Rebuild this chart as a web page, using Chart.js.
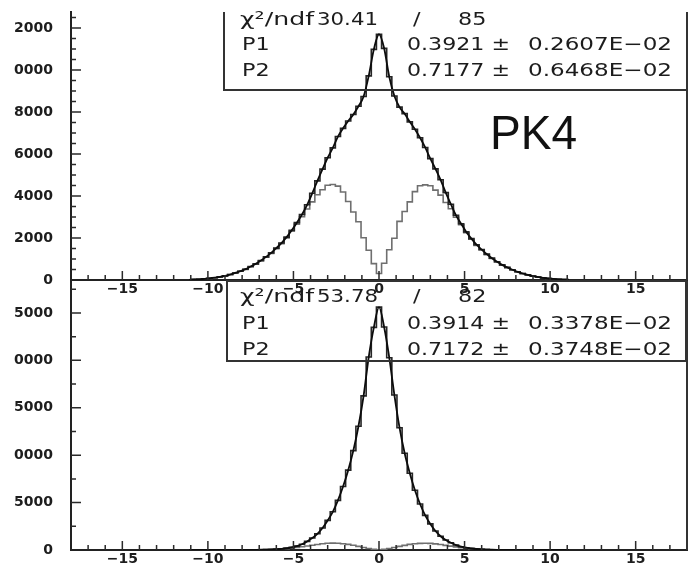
<!DOCTYPE html>
<html>
<head>
<meta charset="utf-8">
<script src="https://cdn.jsdelivr.net/npm/chart.js@4.4.1/dist/chart.umd.min.js"></script>
<style>
  html, body { margin: 0; padding: 0; background: #fff; }
  #wrap { position: relative; width: 688px; height: 565px; overflow: hidden; background: #fff; }
  canvas { position: absolute; left: 0; }
  #topPanel { top: 0; }
  #bottomPanel { top: 270px; }
</style>
</head>
<body>
<div id="wrap">
  <canvas id="topPanel" width="688" height="300"></canvas>
  <canvas id="bottomPanel" width="688" height="295"></canvas>
</div>
<script>
// Bin centres (bin width 0.3)
const binCenters = [-11.1,-10.8,-10.5,-10.2,-9.9,-9.6,-9.3,-9.0,-8.7,-8.4,-8.1,-7.8,-7.5,-7.2,-6.9,-6.6,-6.3,-6.0,-5.7,-5.4,-5.1,-4.8,-4.5,-4.2,-3.9,-3.6,-3.3,-3.0,-2.7,-2.4,-2.1,-1.8,-1.5,-1.2,-0.9,-0.6,-0.3,0,0.3,0.6,0.9,1.2,1.5,1.8,2.1,2.4,2.7,3.0,3.3,3.6,3.9,4.2,4.5,4.8,5.1,5.4,5.7,6.0,6.3,6.6,6.9,7.2,7.5,7.8,8.1,8.4,8.7,9.0,9.3,9.6,9.9,10.2,10.5,10.8,11.1];

// Upper panel: full distribution and the double-humped component
const topTotal = [10,24,33,55,78,110,150,195,262,335,420,515,640,770,925,1100,1290,1520,1760,2040,2370,2730,3120,3580,4130,4720,5280,5820,6290,6830,7220,7570,7880,8270,8740,9720,10980,
  11700,
  11030,9680,8760,8230,7920,7530,7180,6770,6310,5780,5290,4770,4160,3610,3080,2680,2290,1970,1680,1450,1230,1040,870,720,600,490,390,310,245,185,140,100,72,50,34,21,11];
const topSide = [10,23,32,53,76,107,147,192,258,330,414,508,630,758,910,1082,1270,1495,1730,2005,2320,2660,3010,3380,3720,4060,4300,4510,4550,4470,4190,3740,3240,2770,2010,1420,780,
  310,
  800,1440,1990,2790,3260,3720,4210,4490,4530,4490,4280,4040,3690,3390,2990,2630,2250,1940,1650,1425,1210,1022,855,708,590,482,384,305,240,182,137,98,70,49,33,20,10];

// Lower panel
const bottomTotal = [0,0,0,0,0,1,1,1,2,3,4,7,10,17,25,37,56,82,122,184,275,405,610,905,1260,1710,2320,3120,4030,5230,6690,8420,10480,13050,16250,20350,23480,
  25620,
  23520,20280,16340,12900,10200,8100,6300,4850,3650,2750,2000,1450,1050,760,520,350,240,160,105,70,48,32,21,14,9,6,4,2,2,1,1,0,0,0,0,0,0];
const bottomSide = [0,0,0,0,0,0,0,1,1,2,3,5,8,13,21,31,47,70,103,148,198,258,335,415,500,585,655,705,725,710,665,595,495,385,270,165,78,
  20,
  72,158,262,378,488,588,658,702,718,698,648,578,492,408,328,252,192,143,98,67,45,30,20,13,8,5,3,2,1,1,0,0,0,0,0,0,0];

// Axis ticks and their printed labels
const xTickValues = [-15, -10, -5, 0, 5, 10, 15];
const xTickLabels = ['\u221215','\u221210','\u22125','0','5','10','15'];
const topYTickValues = [0, 2000, 4000, 6000, 8000, 10000, 12000];
const topYTickLabels = ['0','2000','4000','6000','8000','0000','2000'];
const bottomYTickValues = [0, 5000, 10000, 15000, 20000, 25000];
const bottomYTickLabels = ['0','5000','0000','5000','0000','5000'];

// Fit results
const topFit = ['30.41', '85'];
const topParams = ['0.3921', '0.7177'];
const topErrors = ['0.2607E\u221202', '0.6468E\u221202'];
const bottomFit = ['53.78', '82'];
const bottomParams = ['0.3914', '0.7172'];
const bottomErrors = ['0.3378E\u221202', '0.3748E\u221202'];

const INK = '#1d1d1d';
const tickFont = { family: '"DejaVu Sans", sans-serif', weight: 'bold', size: 14 };

// Inward tick marks (major + minor) and the right-hand frame line
const frameTicks = {
  id: 'frameTicks',
  afterDraw(chart, args, o) {
    const { ctx, chartArea: a } = chart;
    const xs = chart.scales.x, ys = chart.scales.y;
    ctx.save();
    ctx.strokeStyle = '#2a2a2a';
    ctx.lineWidth = 1.5;
    ctx.beginPath();
    for (let k = Math.ceil(xs.min / o.xMinor); k * o.xMinor < xs.max; k++) {
      const v = k * o.xMinor;
      if (v <= xs.min) continue;
      const px = xs.getPixelForValue(v);
      const len = (Math.abs(v) % o.xMajor === 0) ? 9 : 5;
      ctx.moveTo(px, a.bottom);
      ctx.lineTo(px, a.bottom - len);
    }
    for (let k = 1; k * o.yMinor < ys.max; k++) {
      const v = k * o.yMinor;
      const py = ys.getPixelForValue(v);
      const len = (v % o.yMajor === 0) ? 10 : 5;
      ctx.moveTo(a.left, py);
      ctx.lineTo(a.left + len, py);
    }
    ctx.stroke();
    ctx.lineWidth = 2;
    ctx.strokeStyle = '#333';
    ctx.beginPath();
    ctx.moveTo(a.right, a.top);
    ctx.lineTo(a.right, a.bottom);
    ctx.stroke();
    ctx.restore();
  }
};

// Fit statistics box and panel tag
const statsBox = {
  id: 'statsBox',
  afterDraw(chart, args, o) {
    const ctx = chart.ctx;
    const b = o.box;
    ctx.save();
    ctx.strokeStyle = '#333';
    ctx.lineWidth = 2;
    ctx.beginPath();
    if (o.openTop) {
      ctx.moveTo(b.left, b.top);
      ctx.lineTo(b.left, b.bottom);
      ctx.lineTo(b.right, b.bottom);
      ctx.lineTo(b.right, b.top);
    } else {
      ctx.rect(b.left, b.top, b.right - b.left, b.bottom - b.top);
    }
    ctx.stroke();
    ctx.fillStyle = '#1c1c1c';
    ctx.font = '18px "DejaVu Sans", sans-serif';
    ctx.textBaseline = 'alphabetic';
    ctx.textAlign = 'left';
    for (const it of o.items) {
      const sx = it.w ? it.w / ctx.measureText(it.t).width : 1.24;
      ctx.save();
      ctx.translate(it.x, it.y);
      ctx.scale(sx, 1);
      ctx.fillText(it.t, 0, 0);
      ctx.restore();
    }
    if (o.tag) {
      ctx.font = o.tag.font;
      ctx.fillStyle = '#111';
      ctx.save();
      ctx.translate(o.tag.x, o.tag.y);
      ctx.scale(o.tag.sx, 1);
      ctx.fillText(o.tag.text, 0, 0);
      ctx.restore();
    }
    ctx.restore();
  }
};

function statItems(fit, params, errors, y0, y1, y2) {
  return [
    { t: '\u03C7\u00B2/ndf', x: 240, y: y0, w: 74 },
    { t: fit[0], x: 317, y: y0, w: 61 },
    { t: '/', x: 413, y: y0 },
    { t: fit[1], x: 458, y: y0 },
    { t: 'P1', x: 242, y: y1 },
    { t: params[0] + ' \u00B1', x: 407, y: y1, w: 103 },
    { t: errors[0], x: 528, y: y1, w: 144 },
    { t: 'P2', x: 242, y: y2 },
    { t: params[1] + ' \u00B1', x: 407, y: y2, w: 103 },
    { t: errors[1], x: 528, y: y2, w: 144 }
  ];
}

function makePanel(canvasId, cfg) {
  const pts = vals => binCenters.map((x, i) => ({ x: x, y: vals[i] }));
  return new Chart(document.getElementById(canvasId), {
    type: 'line',
    data: {
      datasets: [
        { data: pts(cfg.total), borderColor: '#0c0c0c', borderWidth: 1.8, pointRadius: 0,
          cubicInterpolationMode: 'monotone', fill: false },
        { data: pts(cfg.total), borderColor: '#262626', borderWidth: 1.6, pointRadius: 0,
          stepped: 'middle', fill: false },
        { data: pts(cfg.side), borderColor: '#6f6f6f', borderWidth: 1.6, pointRadius: 0,
          stepped: 'middle', fill: false }
      ]
    },
    options: {
      responsive: false,
      animation: false,
      events: [],
      layout: { padding: { top: cfg.padTop, right: 1, left: 0, bottom: 0 } },
      scales: {
        x: {
          type: 'linear', min: -18, max: 18, bounds: 'data',
          grid: { display: false, drawTicks: false },
          border: { display: true, color: '#222', width: 2 },
          ticks: {
            autoSkip: false, maxRotation: 0,
            padding: 1, color: INK, font: tickFont,
            callback: (v, i) => xTickLabels[i]
          },
          afterBuildTicks: s => { s.ticks = xTickValues.map(v => ({ value: v })); },
          afterFit: s => { s.height = cfg.xAxisHeight; s.paddingLeft = 0; s.paddingRight = 0; }
        },
        y: {
          type: 'linear', min: 0, max: cfg.yMax, bounds: 'data',
          grid: { display: false, drawTicks: false },
          border: { display: true, color: '#222', width: 2 },
          ticks: {
            autoSkip: false,
            padding: 18, color: INK, font: tickFont,
            callback: (v, i) => cfg.yLabels[i]
          },
          afterBuildTicks: s => { s.ticks = cfg.yTicks.map(v => ({ value: v })); },
          afterFit: s => { s.width = 71; s.paddingTop = 0; s.paddingBottom = 0; }
        }
      },
      plugins: {
        legend: { display: false },
        tooltip: { enabled: false },
        frameTicks: { xMinor: 1, xMajor: 5, yMinor: cfg.yMinor, yMajor: cfg.yStep },
        statsBox: cfg.stats
      }
    },
    plugins: [frameTicks, statsBox]
  });
}

makePanel('topPanel', {
  total: topTotal, side: topSide,
  yMax: 12760, yStep: 2000, yMinor: 500, yTicks: topYTickValues, yLabels: topYTickLabels,
  padTop: 12, xAxisHeight: 20,
  stats: {
    box: { left: 224, top: 12, right: 687, bottom: 90 }, openTop: true,
    items: statItems(topFit, topParams, topErrors, 25, 50, 76),
    tag: { text: 'PK4', x: 490, y: 149, font: '49px "Liberation Sans", Arial, sans-serif', sx: 0.94 }
  }
});

makePanel('bottomPanel', {
  total: bottomTotal, side: bottomSide,
  yMax: 28370, yStep: 5000, yMinor: 2500, yTicks: bottomYTickValues, yLabels: bottomYTickLabels,
  padTop: 11, xAxisHeight: 15,
  stats: {
    box: { left: 227, top: 11, right: 686, bottom: 91 }, openTop: false,
    items: statItems(bottomFit, bottomParams, bottomErrors, 32, 59, 85),
    tag: null
  }
});
</script>
</body>
</html>
